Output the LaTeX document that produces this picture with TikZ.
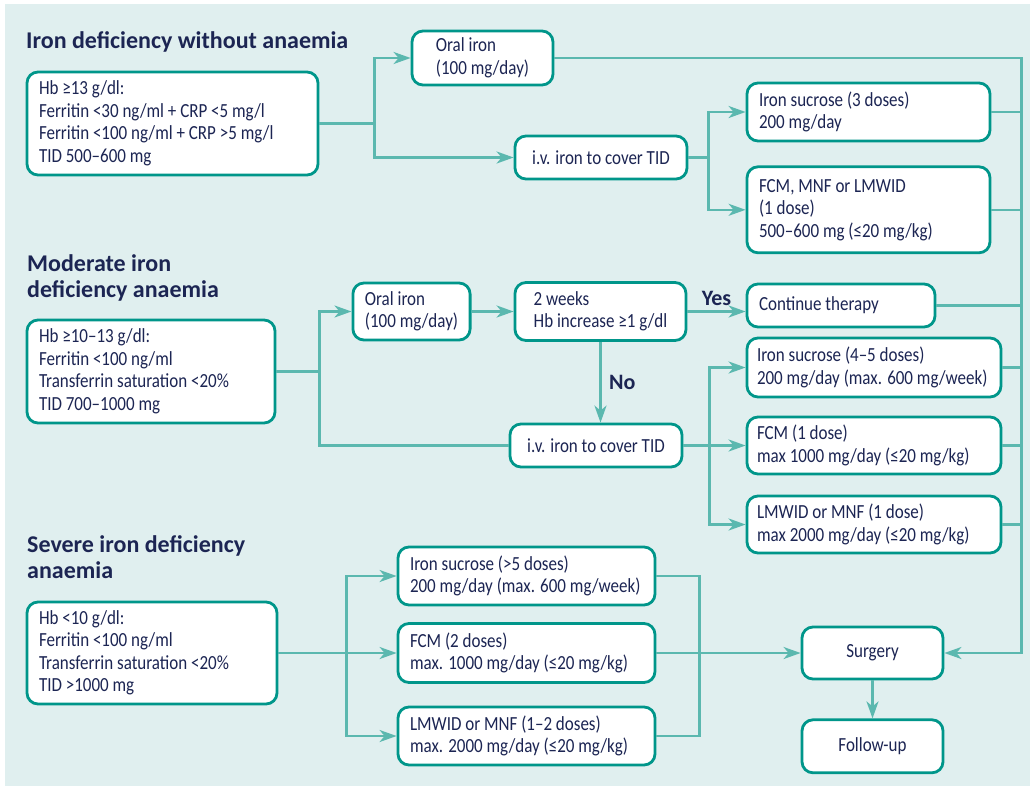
\documentclass[tikz,border=0pt]{standalone}
\usepackage{fontspec}
\setmainfont{Carlito}[FakeStretch=0.85]
\newfontfamily\headfamily{Carlito}
\usetikzlibrary{arrows.meta,positioning}

\definecolor{bgcol}{HTML}{E0EFEF}
\definecolor{boxline}{HTML}{00968A}
\definecolor{wire}{HTML}{5BB8AF}
\definecolor{ink}{HTML}{1C2553}

\newcommand\bodyfont{\fontsize{20}{22.5}\selectfont}
\newcommand\headfont{\headfamily\bfseries\fontsize{24}{25.5}\selectfont}

\tikzset{
  box/.style={draw=boxline,line width=2.8pt,rounded corners=11pt,fill=white,text=ink,
    align=flush left,inner xsep=12pt,inner ysep=0pt,font=\bodyfont},
  conn/.style={draw=wire,line width=2.4pt},
  arr/.style={conn,-{Stealth[length=17pt,width=12pt,inset=5pt]}},
  head/.style={text=ink,font=\headfont,align=left,anchor=base west,inner sep=0pt},
  lbl/.style={text=ink,font=\headfamily\bfseries\fontsize{22}{24}\selectfont}
}

\begin{document}
\begin{tikzpicture}[x=1pt,y=-1pt]
\useasboundingbox (0,0) rectangle (1030,788);
\fill[white] (0,0) rectangle (1030,788);
\fill[bgcol] (5,4) rectangle (1030,786);

% iron deficiency without anaemia
\node (title1) [head] at (26,48) {Iron deficiency without anaemia};
\node (crit1) [box,text width=267pt,minimum height=103pt] at (172.5,123.5) {Hb ≥13 g/dl:\\Ferritin <30 ng/ml + CRP <5 mg/l\\Ferritin <100 ng/ml + CRP >5 mg/l\\TID 500–600 mg};
\node (oral1) [box,minimum width=141pt,minimum height=54pt] at (482.5,58) {Oral iron\\(100 mg/day)};
\node (iv1) [box,minimum width=172pt,minimum height=43pt] at (601,157.5) {i.v. iron to cover TID};
\node (suc1) [box,text width=219pt,minimum height=58pt] at (868.5,112) {Iron sucrose (3 doses)\\200 mg/day};
\node (fcm1) [box,text width=219pt,minimum height=86pt,below=23pt of suc1] {FCM, MNF or LMWID\\(1 dose)\\500–600 mg (≤20 mg/kg)};

% moderate
\node (title2) [head] at (27,297) {Moderate iron\\deficiency anaemia};
\node (crit2) [box,text width=224pt,minimum height=103pt] at (151,371.5) {Hb ≥10–13 g/dl:\\Ferritin <100 ng/ml\\Transferrin saturation <20\%\\TID 700–1000 mg};
\node (oral2) [box,minimum width=113pt,minimum height=57pt] at (411.5,311.5) {Oral iron\\(100 mg/day)};
\node (weeks) [box,minimum width=171pt,minimum height=58pt] at (600.5,311.5) {2 weeks\\Hb increase ≥1 g/dl};
\node (cont) [box,text width=164pt,minimum height=43pt] at (841,305.5) {Continue therapy};
\node (iv2) [box,minimum width=172pt,minimum height=43pt] at (596,445.5) {i.v. iron to cover TID};
\node (suc2) [box,text width=234pt,inner xsep=10pt,minimum height=59pt] at (874,367.5) {Iron sucrose (4–5 doses)\\200 mg/day (max. 600 mg/week)};
\node (fcm2) [box,text width=234pt,inner xsep=10pt,minimum height=57pt] at (874,445.5) {FCM (1 dose)\\max 1000 mg/day (≤20 mg/kg)};
\node (lmw2) [box,text width=234pt,inner xsep=10pt,minimum height=57pt] at (874,524.5) {LMWID or MNF (1 dose)\\max 2000 mg/day (≤20 mg/kg)};

% severe
\node (title3) [head] at (27,578) {Severe iron deficiency\\anaemia};
\node (crit3) [box,text width=226pt,minimum height=102pt] at (152,653) {Hb <10 g/dl:\\Ferritin <100 ng/ml\\Transferrin saturation <20\%\\TID >1000 mg};
\node (suc3) [box,text width=233pt,minimum height=58pt] at (526.5,576) {Iron sucrose (>5 doses)\\200 mg/day (max. 600 mg/week)};
\node (fcm3) [box,text width=233pt,minimum height=59pt] at (526.5,653) {FCM (2 doses)\\max. 1000 mg/day (≤20 mg/kg)};
\node (lmw3) [box,text width=233pt,minimum height=58pt] at (526.5,736) {LMWID or MNF (1–2 doses)\\max. 2000 mg/day (≤20 mg/kg)};
\node (surg) [box,minimum width=141pt,minimum height=52pt] at (872.5,653) {Surgery};
\node (foll) [box,minimum width=141pt,minimum height=53pt,below=38pt of surg] {Follow-up};

% forks
\coordinate (f1) at ([xshift=55pt]crit1.east);
\coordinate (f1b) at ([xshift=20pt]iv1.east);
\coordinate (f2) at ([xshift=43pt]crit2.east);
\coordinate (f2b) at ([xshift=26pt]iv2.east);
\coordinate (f3) at ([xshift=68pt]crit3.east);
\coordinate (m3) at ([xshift=43pt]suc3.east);
\coordinate (bus) at ([xshift=467pt]oral1.east);

\draw[conn] (crit1.east) -- (f1); \draw[arr] (f1) |- (oral1.west); \draw[arr] (f1) |- (iv1.west);
\draw[conn] (iv1.east) -- (f1b); \draw[arr] (f1b) |- (suc1.west); \draw[arr] (f1b) |- (fcm1.west);

\draw[conn] (crit2.east) -- (f2); \draw[arr] (f2) |- (oral2.west); \draw[conn] (f2) |- (iv2.west);
\draw[arr] (oral2) -- (weeks);
\draw[arr] (weeks.east) -- (weeks.east -| cont.west) node[midway,above=1pt,lbl] {Yes};
\draw[arr] (weeks.south) -- (weeks.south |- iv2.north) node[midway,right=4pt,lbl] {No};
\draw[arr] (iv2) -- (fcm2); \draw[arr] (f2b) |- (suc2.west); \draw[arr] (f2b) |- (lmw2.west);

\draw[conn] (crit3.east) -- (f3); \draw[arr] (f3) |- (suc3.west); \draw[arr] (f3) -- (fcm3.west); \draw[arr] (f3) |- (lmw3.west);
\draw[conn] (suc3.east) -- (m3) |- (lmw3.east);
\draw[arr] (fcm3) -- (surg);
\draw[arr] (surg) -- (foll);

% collecting line on the right
\draw[arr] (oral1.east) -- (bus) |- (surg.east);
\draw[conn] (suc1.east) -- (suc1.east -| bus); \draw[conn] (fcm1.east) -- (fcm1.east -| bus);
\draw[conn] (cont.east) -- (cont.east -| bus); \draw[conn] (suc2.east) -- (suc2.east -| bus);
\draw[conn] (fcm2.east) -- (fcm2.east -| bus); \draw[conn] (lmw2.east) -- (lmw2.east -| bus);
\end{tikzpicture}
\end{document}
